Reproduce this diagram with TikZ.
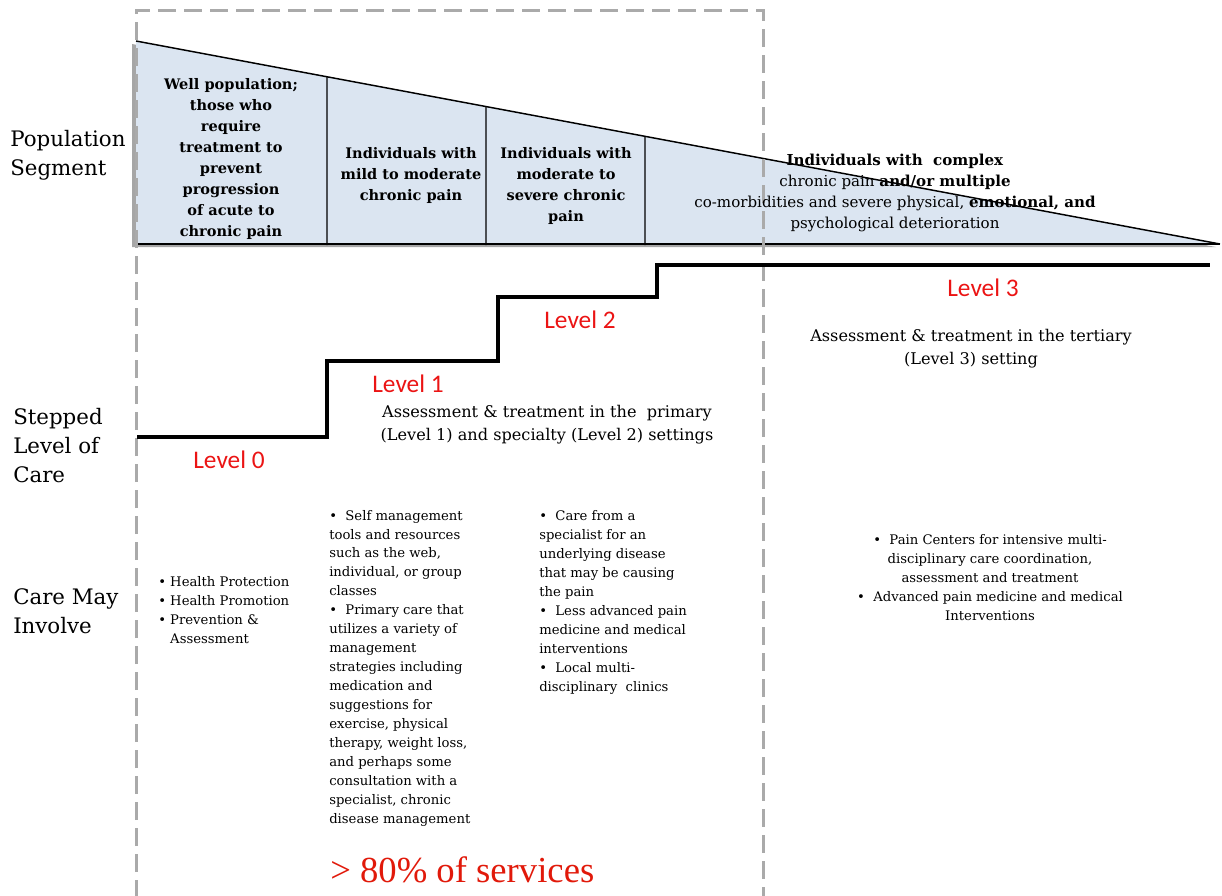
\documentclass[tikz,border=0pt]{standalone}
\usepackage{fontspec}
\setmainfont{DejaVu Serif}
\newfontfamily\calibfont{Carlito}
\newfontfamily\timesfont{Liberation Serif}
\usetikzlibrary{calc}
\definecolor{segblue}{RGB}{219,229,241}
\definecolor{dashgray}{RGB}{170,170,170}
\definecolor{lvlred}{RGB}{235,20,20}
\definecolor{pctred}{RGB}{225,25,10}
\newcommand\myfs[2]{\fontsize{#1}{#2}\selectfont}
\tikzset{
  segtext/.style={align=center, inner sep=0pt, font=\bfseries\myfs{10.9}{15.75}},
  sidelabel/.style={anchor=west, align=left, inner sep=0pt, font=\myfs{16}{21.75}},
  caretext/.style={align=left, inner sep=0pt, font=\myfs{9.9}{14.2}},
  caretextc/.style={align=center, inner sep=0pt, font=\myfs{9.9}{14.2}},
  assesstext/.style={align=center, inner sep=0pt, font=\myfs{12.1}{17.25}},
  levellabel/.style={inner sep=0pt, text=lvlred, font=\calibfont\myfs{19}{22}},
  stair/.style={line width=3pt, line join=miter},
  divider/.style={line width=1pt},
  guide/.style={draw=dashgray, line width=2.25pt, dash pattern=on 13.5pt off 6pt}
}
\begin{document}
\begin{tikzpicture}[x=0.75pt,y=-0.75pt]
\useasboundingbox (0,0) rectangle (1222,896);
% triangle
\coordinate (tl) at (136,41);
\coordinate (bl) at (136,244);
\coordinate (br) at (1220,244);
\fill[black!35] ([shift={(-4,3)}]tl) -- ([shift={(-4,3)}]bl) -- ([shift={(-4,3)}]br) -- cycle;
\fill[segblue] (tl) -- (bl) -- (br) -- cycle;
\draw[line width=1.1pt] (tl) -- (br);
\draw[line width=2.2pt] (bl) -- (br);
% dividers
\coordinate (d1t) at ($(tl)!{(327-136)/1084}!(br)$);
\coordinate (d2t) at ($(tl)!{(486-136)/1084}!(br)$);
\coordinate (d3t) at ($(tl)!{(645-136)/1084}!(br)$);
\coordinate (d1b) at (327,245);
\coordinate (d2b) at (486,245);
\coordinate (d3b) at (645,245);
\draw[divider] (d1t) -- (d1b);
\draw[divider] (d2t) -- (d2b);
\draw[divider] (d3t) -- (d3b);
% dashed guide box
\coordinate (g1) at (136,898);
\coordinate (g2) at (136,10);
\coordinate (g3) at (763,10);
\coordinate (g4) at (763,898);
\draw[guide] (g1) -- (g2) -- (g3) -- (g4);
% segment texts
\node[segtext] (seg1) at (231,158.5) {Well population;\\those who\\require\\treatment to\\prevent\\progression\\of acute to\\chronic pain};
\node[segtext] (seg2) at (411,175) {Individuals with\\mild to moderate\\chronic pain};
\node[segtext] (seg3) at (566,185.5) {Individuals with\\moderate to\\severe chronic\\pain};
\node[segtext, font=\mdseries\myfs{11.3}{15.75}] (seg4) at (895,192.5) {\textbf{Individuals with\ \ complex}\\chronic pain \textbf{and/or multiple}\\co-morbidities and severe physical, \textbf{emotional, and}\\psychological deterioration};
% side labels
\node[sidelabel] (lab1) at (10,155.5) {Population\\Segment};
\node[sidelabel] (lab2) at (13,445.5) {Stepped\\Level of\\Care};
\node[sidelabel] (lab3) at (13,611.5) {Care May\\Involve};
% stairs
\coordinate (s0) at (137,437);
\coordinate (s1) at (327,437);
\coordinate (s2) at (327,361);
\coordinate (s3) at (498,361);
\coordinate (s4) at (498,297);
\coordinate (s5) at (657,297);
\coordinate (s6) at (657,265);
\coordinate (s7) at (1210,265);
\draw[stair] (s0) -- (s1) -- (s2) -- (s3) -- (s4) -- (s5) -- (s6) -- (s7);
% level labels
\node[levellabel] (lv0) at (229,460) {Level 0};
\node[levellabel] (lv1) at (408,384) {Level 1};
\node[levellabel] (lv2) at (580,320) {Level 2};
\node[levellabel] (lv3) at (983,288) {Level 3};
\node[assesstext] (as12) at (547,425) {Assessment \& treatment in the\ \ primary\\(Level 1) and specialty (Level 2) settings};
\node[assesstext] (as3) at (971,348.5) {Assessment \& treatment in the tertiary\\(Level 3) setting};
% care texts
\node[caretext, anchor=west] (c0) at (158,610) {\textbullet\ Health Protection\\\textbullet\ Health Promotion\\\textbullet\ Prevention \&\\\phantom{\textbullet\ }Assessment};
\node[caretext, anchor=west] (c1) at (329,668) {\textbullet\ \ Self management\\tools and resources\\such as the web,\\individual, or group\\classes\\\textbullet\ \ Primary care that\\utilizes a variety of\\management\\strategies including\\medication and\\suggestions for\\exercise, physical\\therapy, weight loss,\\and perhaps some\\consultation with a\\specialist, chronic\\disease management};
\node[caretext, anchor=west] (c2) at (539,602.5) {\textbullet\ \ Care from a\\specialist for an\\underlying disease\\that may be causing\\the pain\\\textbullet\ \ Less advanced pain\\medicine and medical\\interventions\\\textbullet\ \ Local multi-\\disciplinary\ \ clinics};
\node[caretextc] (c3) at (990,577.5) {\textbullet\ \ Pain Centers for intensive multi-\\disciplinary care coordination,\\assessment and treatment\\\textbullet\ \ Advanced pain medicine and medical\\Interventions};
% percentage
\node[anchor=west, inner sep=0pt, text=pctred, font=\timesfont\myfs{27.5}{30}] (pct) at (330,870) {> 80\% of services};
\end{tikzpicture}
\end{document}
